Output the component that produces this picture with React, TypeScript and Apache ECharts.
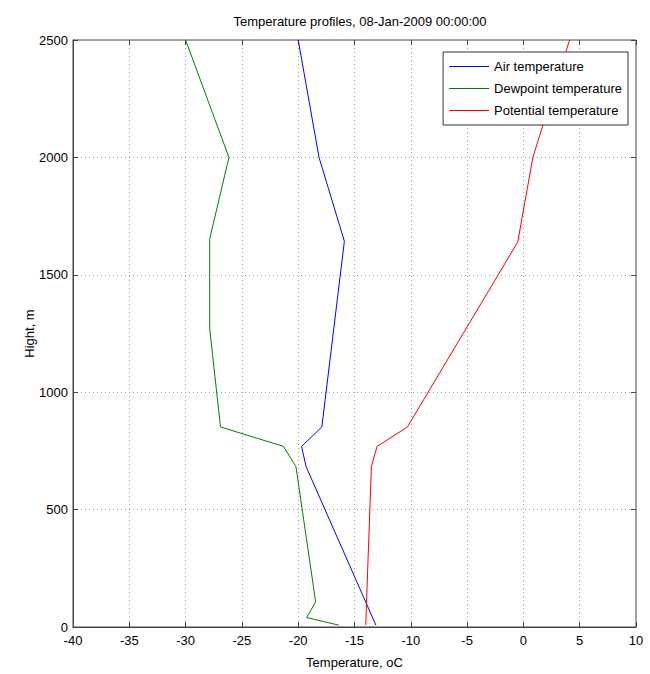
import React, { useEffect, useRef } from "react";
import * as echarts from "echarts";

const airTemp: [number, number][] = [
  [-13.1, 8], [-19.3, 683], [-19.7, 769], [-17.9, 852], [-15.9, 1643], [-18.15, 2000], [-20.0, 2500],
];
const dewTemp: [number, number][] = [
  [-16.4, 8], [-19.25, 40], [-18.45, 107], [-20.2, 683], [-21.3, 769], [-26.9, 852],
  [-27.86, 1270], [-27.86, 1653], [-26.15, 2000], [-30.0, 2500],
];
const potTemp: [number, number][] = [
  [-14.0, 8], [-13.9, 149], [-13.5, 683], [-13.0, 769], [-10.3, 852], [-0.5, 1640], [0.84, 2000], [4.1, 2500],
];
const seriesNames = ["Air temperature", "Dewpoint temperature", "Potential temperature"];
const colors = ["#0000ff", "#008000", "#ff0000"];

export default function App() {
  const ref = useRef<HTMLDivElement>(null);
  useEffect(() => {
    if (!ref.current) return;
    const chart = echarts.init(ref.current, undefined, { renderer: "svg" });
    const font = "Liberation Sans, Arial, sans-serif";
    const gridSplit = { show: true, lineStyle: { color: "#a0a0a0", type: [1, 3] as any, width: 1 } };
    const tickIn = { show: true, inside: true, length: 5, lineStyle: { color: "#444" } };
    chart.setOption({
      animation: false,
      backgroundColor: "#fff",
      title: {
        text: "Temperature profiles, 08-Jan-2009 00:00:00",
        left: 355,
        textAlign: "center",
        top: 10,
        textStyle: { fontFamily: font, fontSize: 13, fontWeight: "normal", color: "#000" },
      },
      legend: {
        data: seriesNames,
        orient: "vertical",
        right: 22,
        top: 52,
        backgroundColor: "#fff",
        borderColor: "#333",
        borderWidth: 1,
        padding: [8, 6, 8, 6],
        itemGap: 9,
        itemWidth: 40,
        itemHeight: 14,
        icon: "path://M0,6.5 L40,6.5 L40,7.5 L0,7.5 Z",
        textStyle: { fontFamily: font, fontSize: 13, color: "#000" },
      },
      grid: { left: 73, right: 14, top: 40, bottom: 46, show: true, borderColor: "#444", borderWidth: 1 },
      xAxis: [
        {
          type: "value",
          min: -40,
          max: 10,
          interval: 5,
          name: "Temperature, oC",
          nameLocation: "middle",
          nameGap: 29,
          nameMoveOverlap: false,
          nameTextStyle: { fontFamily: font, fontSize: 13, color: "#000" },
          axisLine: { show: true, onZero: false, lineStyle: { color: "#444" } },
          axisTick: tickIn,
          axisLabel: { fontFamily: font, fontSize: 13, color: "#000", margin: 7 },
          splitLine: gridSplit,
        },
        {
          type: "value",
          position: "top",
          min: -40,
          max: 10,
          interval: 5,
          axisLine: { show: false, onZero: false },
          axisTick: tickIn,
          axisLabel: { show: false },
          splitLine: { show: false },
        },
      ],
      yAxis: [
        {
          type: "value",
          min: 0,
          max: 2500,
          interval: 500,
          name: "Hight, m",
          nameLocation: "middle",
          nameGap: 37,
          nameMoveOverlap: false,
          nameTextStyle: { fontFamily: font, fontSize: 13, color: "#000" },
          axisLine: { show: true, onZero: false, lineStyle: { color: "#444" } },
          axisTick: tickIn,
          axisLabel: { fontFamily: font, fontSize: 13, color: "#000", margin: 5, formatter: (v: number) => String(v) },
          splitLine: gridSplit,
        },
        {
          type: "value",
          position: "right",
          min: 0,
          max: 2500,
          interval: 500,
          axisLine: { show: false, onZero: false },
          axisTick: tickIn,
          axisLabel: { show: false },
          splitLine: { show: false },
        },
      ],
      series: [airTemp, dewTemp, potTemp].map((d, i) => ({
        name: seriesNames[i],
        type: "line",
        data: d,
        symbol: "none",
        lineStyle: { color: colors[i], width: 1 },
        itemStyle: { color: colors[i] },
        clip: true,
      })),
    });
    return () => chart.dispose();
  }, []);
  return <div ref={ref} style={{ width: 650, height: 674, position: "absolute", left: 0, top: 0 }} />;
}
